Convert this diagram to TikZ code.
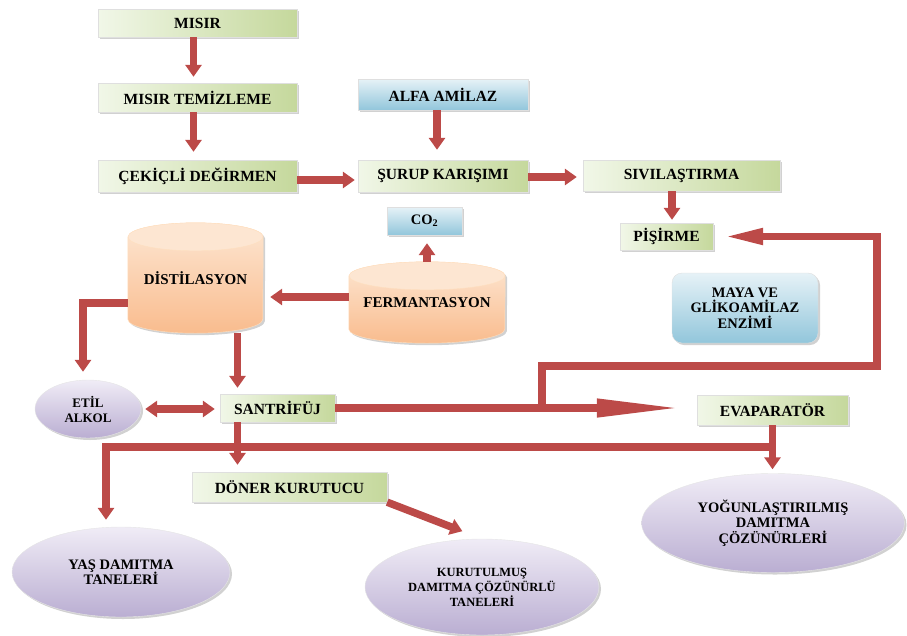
\documentclass[tikz,border=0pt]{standalone}
\usepackage{fontspec}
\setmainfont{Liberation Serif}
\usetikzlibrary{arrows.meta,shapes.geometric,shadows,backgrounds}

\definecolor{greenL}{RGB}{241,247,232}
\definecolor{greenR}{RGB}{197,216,156}
\definecolor{blueT}{RGB}{230,242,247}
\definecolor{blueB}{RGB}{146,198,219}
\definecolor{peachT}{RGB}{253,230,210}
\definecolor{peachB}{RGB}{249,188,142}
\definecolor{lilacT}{RGB}{240,236,246}
\definecolor{lilacB}{RGB}{186,174,210}
\definecolor{pipered}{RGB}{188,74,72}

\begin{document}
\begin{tikzpicture}[x=1pt, y=-1pt,
  >={Triangle[length=12pt,width=16pt]},
  txt/.style={font=\bfseries\fontsize{14.5}{15.5}\selectfont, align=center, inner sep=1pt},
  shade/.style={drop shadow={shadow xshift=2pt, shadow yshift=-2pt, fill=black!40, opacity=.45}},
  greenbox/.style={txt, font=\bfseries\fontsize{15.5}{16}\selectfont, draw=gray!25, left color=greenL, right color=greenR, shade},
  bluebox/.style={txt, draw=gray!25, top color=blueT, bottom color=blueB, shade},
  product/.style={txt, ellipse, draw=gray!20, top color=lilacT, bottom color=lilacB, shade},
  tank/.style={txt, font=\bfseries\fontsize{15}{16}\selectfont},
  flow/.style={->, draw=pipered, line width=7.5pt}]
  \useasboundingbox (0,0) rectangle (907,635);

  \node[greenbox, minimum width=199, minimum height=28] (misir) at (197.5,23) {MISIR};
  \node[greenbox, minimum width=199, minimum height=29] (temiz) at (197.5,97.5) {MISIR TEMİZLEME};
  \node[greenbox, minimum width=199, minimum height=32] (cekic) at (197.5,176) {ÇEKİÇLİ DEĞİRMEN};
  \node[bluebox, font=\bfseries\fontsize{15.5}{16}\selectfont, minimum width=170, minimum height=31] (alfa) at (443,94.5) {ALFA AMİLAZ};
  \node[greenbox, minimum width=170, minimum height=32] (surup) at (443,176) {ŞURUP KARIŞIMI};
  \node[greenbox, minimum width=197, minimum height=31] (siv) at (681.5,175.5) {SIVILAŞTIRMA};
  \node[greenbox, minimum width=93, minimum height=27] (pis) at (666.5,236.5) {PİŞİRME};
  \node[bluebox, minimum width=75, minimum height=28] (co2) at (424.5,221) {CO\textsubscript{2}};
  \node[bluebox, rounded corners=10pt, minimum width=146, minimum height=70] (maya) at (745,308) {MAYA VE\\GLİKOAMİLAZ\\ENZİMİ};
  \node[tank, minimum width=135, minimum height=110] (dist) at (195.5,278) {DİSTİLASYON};
  \node[tank, minimum width=156, minimum height=81] (ferm) at (427,302.5) {FERMANTASYON};
  \node[product, font=\bfseries\fontsize{13}{15}\selectfont, minimum width=106, minimum height=58] (etil) at (88,409) {ETİL\\ALKOL};
  \node[greenbox, minimum width=115, minimum height=28] (sant) at (277.5,408) {SANTRİFÜJ};
  \node[greenbox, minimum width=151, minimum height=30] (evap) at (772.5,410) {EVAPARATÖR};
  \node[greenbox, minimum width=195, minimum height=30] (doner) at (289.5,487) {DÖNER KURUTUCU};
  \node[product, minimum width=218, minimum height=90] (yas) at (121,572) {YAŞ DAMITMA\\TANELERİ};
  \node[product, font=\bfseries\fontsize{12.5}{15}\selectfont, minimum width=234, minimum height=96] (kur) at (482,587) {KURUTULMUŞ\\DAMITMA ÇÖZÜNÜRLÜ\\TANELERİ};
  \node[product, minimum width=263, minimum height=99] (yog) at (773,523) {YOĞUNLAŞTIRILMIŞ\\DAMITMA\\ÇÖZÜNÜRLERİ};

  \begin{scope}[on background layer]
    \foreach \nm/\rx in {dist/67.5, ferm/78} {
      \path[draw=orange!25, top color=peachT, bottom color=peachB, shade]
        ([yshift=-14pt]\nm.north west) -- ([yshift=14pt]\nm.south west)
        arc[start angle=180, end angle=360, x radius=\rx*1pt, y radius=14pt]
        -- ([yshift=-14pt]\nm.north east)
        arc[start angle=0, end angle=180, x radius=\rx*1pt, y radius=14pt] -- cycle;
      \draw[orange!25, fill=peachT] ([yshift=-14pt]\nm.north) ellipse [x radius=\rx*1pt, y radius=14pt];
    }
  \end{scope}

  \coordinate (split) at (542,408);
  \coordinate (loopR) at (877,366);
  \coordinate (barR) at (773,447);

  \draw[flow, shorten >=6pt] ([xshift=-4]misir.south) -- ([xshift=-4]temiz.north);
  \draw[flow, shorten >=8pt] ([xshift=-4]temiz.south) -- ([xshift=-4]cekic.north);
  \draw[flow, shorten >=10pt] ([xshift=-6]alfa.south) -- ([xshift=-6]surup.north);
  \draw[flow, shorten >=3pt] ([yshift=-4]cekic.east) -- ([yshift=-4]cekic.east -| surup.west);
  \draw[flow, shorten >=6pt] ([yshift=-1]surup.east) -- ([yshift=-1]surup.east -| siv.west);
  \draw[flow, shorten >=3pt] ([xshift=5.5]pis.north |- siv.south) -- ([xshift=5.5]pis.north);
  \draw[flow, shorten >=8pt] (ferm.north) -- (ferm.north |- co2.south);
  \draw[flow, shorten >=7pt] ([yshift=5.5]ferm.west) -- ([yshift=5.5]ferm.west -| dist.east);
  \draw[flow, shorten >=8pt] ([yshift=-25]dist.west) -| ([xshift=-5]etil.north);
  \draw[flow, shorten >=6pt] ([xshift=-40]sant.north |- dist.south) -- ([xshift=-40]sant.north);
  \draw[flow, <->, shorten <=4pt, shorten >=5pt] (etil.east) -- (etil.east -| sant.west);
  \draw[flow, -{Triangle[length=85pt,width=17pt]}, shorten >=15pt] (sant.east) -- (sant.east -| evap.west);
  \draw[flow, -{Triangle[length=40pt,width=15pt]}, shorten >=10pt] (split) |- (loopR) |- (pis.east);
  \draw[flow, shorten >=4pt] (evap.south) -- (evap.south |- yog.north);
  \draw[flow, shorten >=7pt] (barR) -| ([xshift=-15]yas.north);
  \draw[flow, shorten >=7pt] ([xshift=-40]sant.south) -- ([xshift=-40]sant.south |- doner.north);
  \draw[flow, shorten >=21pt] (doner.south east) -- (kur.north);
\end{tikzpicture}
\end{document}
